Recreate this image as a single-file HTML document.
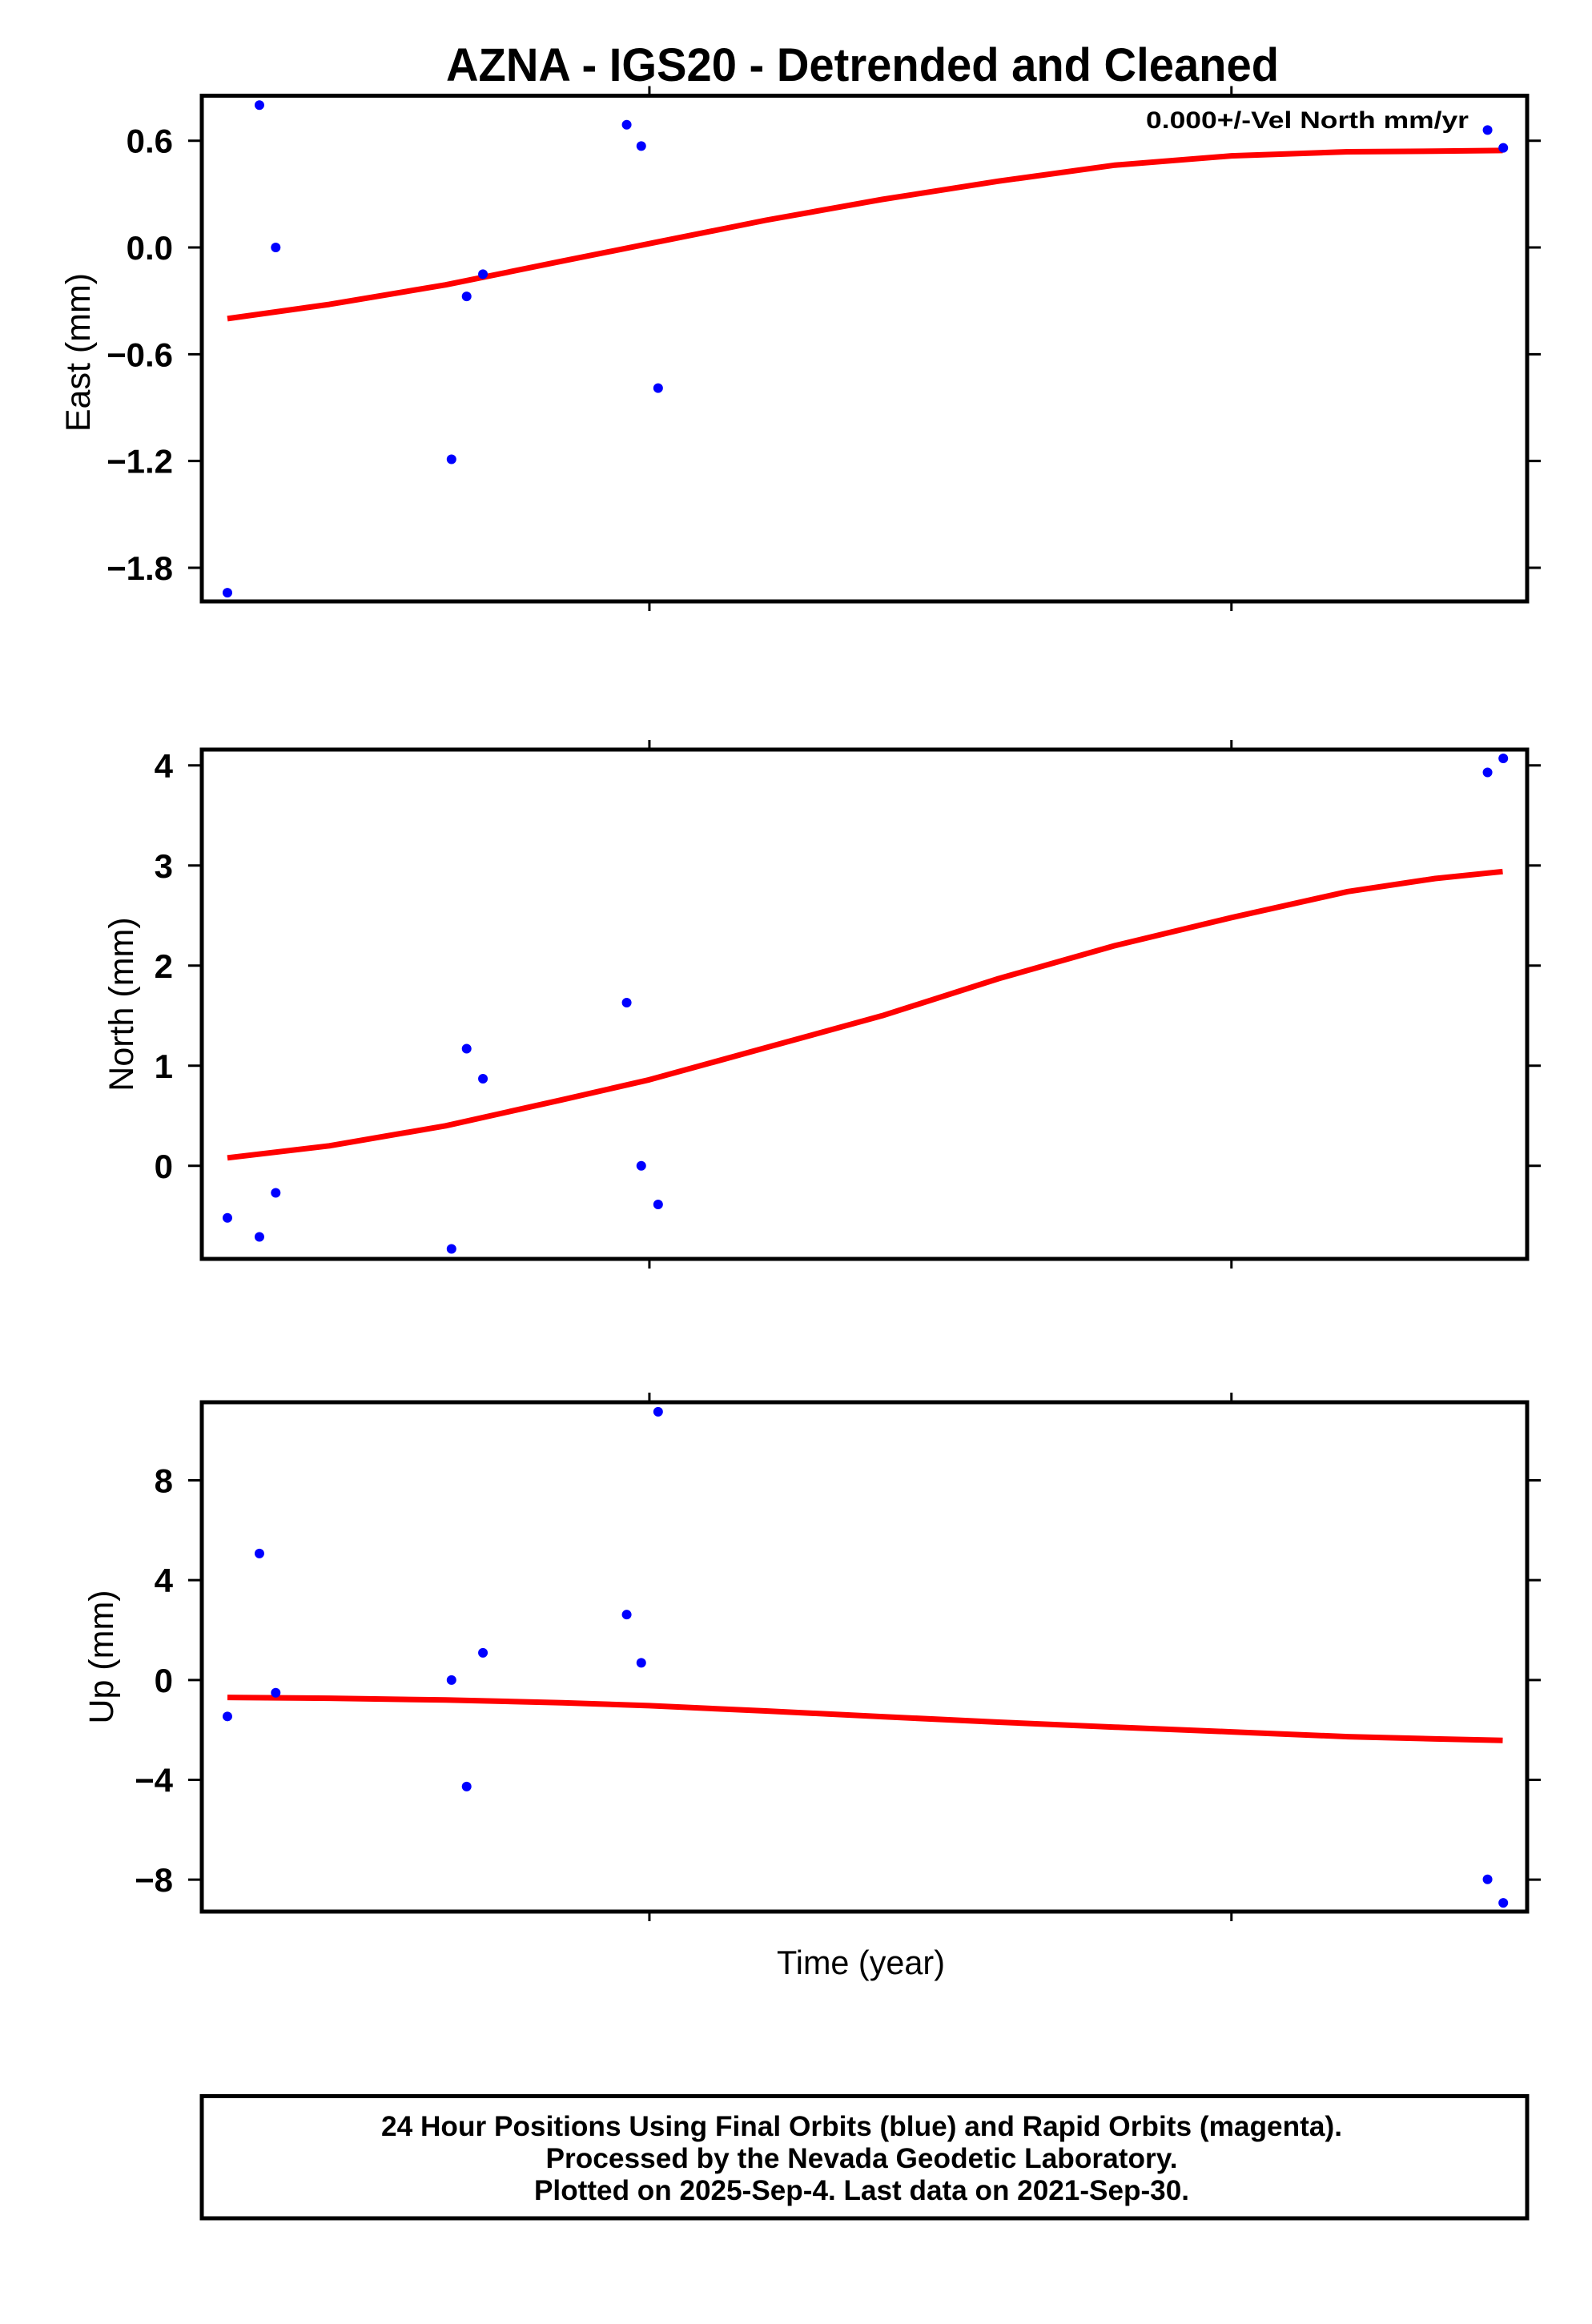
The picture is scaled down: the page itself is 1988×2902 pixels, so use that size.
<!DOCTYPE html>
<html><head><meta charset="utf-8"><title>AZNA - IGS20 - Detrended and Cleaned</title>
<style>html,body{margin:0;padding:0;background:#fff}svg{display:block}text{font-family:"Liberation Sans",Arial,sans-serif}</style>
</head><body>
<svg id="chart" width="1988" height="2902" viewBox="0 0 1988 2902" xmlns="http://www.w3.org/2000/svg">
<rect width="1988" height="2902" fill="#fff"/>
<text x="1077" y="101" text-anchor="middle" font-size="58" font-weight="bold" textLength="1040" lengthAdjust="spacingAndGlyphs">AZNA - IGS20 - Detrended and Cleaned</text>
<g id="plots"></g>
<text x="1075" y="2465" text-anchor="middle" font-size="42" textLength="210" lengthAdjust="spacingAndGlyphs">Time (year)</text>
<g>
<rect x="252" y="2617.5" width="1655" height="152.5" fill="none" stroke="#000" stroke-width="5"/>
<text x="1076" y="2667" text-anchor="middle" font-size="35" font-weight="bold" textLength="1200" lengthAdjust="spacingAndGlyphs">24 Hour Positions Using Final Orbits (blue) and Rapid Orbits (magenta).</text>
<text x="1076" y="2707" text-anchor="middle" font-size="35" font-weight="bold" textLength="789" lengthAdjust="spacingAndGlyphs">Processed by the Nevada Geodetic Laboratory.</text>
<text x="1076" y="2747" text-anchor="middle" font-size="35" font-weight="bold" textLength="818" lengthAdjust="spacingAndGlyphs">Plotted on 2025-Sep-4. Last data on 2021-Sep-30.</text>
</g>
</svg>
<script>
// ---- data ----
const obsYears = [2019.275, 2019.330, 2019.358, 2019.660, 2019.686, 2019.714, 2019.961, 2019.986, 2020.015, 2021.440, 2021.467];
const eastValues = [-1.94, 0.80, 0.0, -1.19, -0.275, -0.15, 0.69, 0.57, -0.79, 0.66, 0.56];
const northValues = [-0.52, -0.71, -0.27, -0.83, 1.17, 0.87, 1.63, 0.0, -0.386, 3.93, 4.07];
const upValues = [-1.46, 5.07, -0.51, 0.0, -4.27, 1.09, 2.62, 0.69, 10.75, -7.99, -8.93];
const fitYears = [2019.275, 2019.45, 2019.65, 2019.85, 2020.0, 2020.2, 2020.4, 2020.6, 2020.8, 2021.0, 2021.2, 2021.35, 2021.466];
const eastFit = [-0.40, -0.32, -0.21, -0.077, 0.022, 0.153, 0.27, 0.373, 0.463, 0.515, 0.538, 0.541, 0.545];
const northFit = [0.08, 0.20, 0.40, 0.66, 0.86, 1.18, 1.50, 1.87, 2.20, 2.48, 2.74, 2.87, 2.94];
const upFit = [-0.70, -0.73, -0.80, -0.91, -1.03, -1.24, -1.47, -1.69, -1.89, -2.08, -2.27, -2.36, -2.42];
const xTickYears = [2020, 2021];
const eastTicks = [0.6, 0.0, -0.6, -1.2, -1.8];
const eastTickLabels = ["0.6", "0.0", "\u22120.6", "\u22121.2", "\u22121.8"];
const northTicks = [4, 3, 2, 1, 0];
const northTickLabels = ["4", "3", "2", "1", "0"];
const upTicks = [8, 4, 0, -4, -8];
const upTickLabels = ["8", "4", "0", "\u22124", "\u22128"];

const NS = "http://www.w3.org/2000/svg";
const X0 = 252, X1 = 1907, YR0 = 2019.231, YR1 = 2021.508;
function xScale(yr){ return X0 + (yr - YR0) / (YR1 - YR0) * (X1 - X0); }
function mk(tag, attrs, parent){ const e = document.createElementNS(NS, tag); for (const k in attrs) e.setAttribute(k, attrs[k]); parent.appendChild(e); return e; }

const panels = [
  {key:"east", label:"East (mm)", top:119.5, bottom:751, vmin:-1.989, vmax:0.853, obs:eastValues, fit:eastFit, ticks:eastTicks, tlabels:eastTickLabels, labX:112, labY:440},
  {key:"north", label:"North (mm)", top:936, bottom:1572, vmin:-0.93, vmax:4.158, obs:northValues, fit:northFit, ticks:northTicks, tlabels:northTickLabels, labX:166, labY:1254},
  {key:"up", label:"Up (mm)", top:1751, bottom:2387, vmin:-9.28, vmax:11.13, obs:upValues, fit:upFit, ticks:upTicks, tlabels:upTickLabels, labX:141, labY:2069}
];
const root = document.getElementById("plots");
panels.forEach(p => {
  const yS = v => p.bottom - (v - p.vmin) / (p.vmax - p.vmin) * (p.bottom - p.top);
  const g = mk("g", {}, root);
  
  
  // y ticks
  p.ticks.forEach((t, i) => {
    const y = yS(t);
    const tl = mk("line", {x1:X0-17, x2:X0, y1:y, y2:y, stroke:"#000", "stroke-width":3}, g);
    
    
    const tr = mk("line", {x1:X1, x2:X1+17, y1:y, y2:y, stroke:"#000", "stroke-width":3}, g);
    
    
    const tx = mk("text", {x:216, y:y+15, "text-anchor":"end", "font-size":42, "font-weight":"bold"}, g);
    
    
    tx.textContent = p.tlabels[i];
  });
  // x ticks
  xTickYears.forEach(yr => {
    const x = xScale(yr);
    const a = mk("line", {x1:x, x2:x, y1:p.top-12, y2:p.top, stroke:"#000", "stroke-width":3}, g);
    
    
    const b = mk("line", {x1:x, x2:x, y1:p.bottom, y2:p.bottom+12, stroke:"#000", "stroke-width":3}, g);
    
    
  });
  // fit line
  const d = fitYears.map((yr, i) => (i ? "L" : "M") + xScale(yr).toFixed(1) + " " + yS(p.fit[i]).toFixed(1)).join(" ");
  const path = mk("path", {d:d, fill:"none", stroke:"#ff0000", "stroke-width":7, "stroke-linejoin":"round"}, g);
  
  
  // points
  obsYears.forEach((yr, i) => {
    const c = mk("circle", {cx:xScale(yr), cy:yS(p.obs[i]), r:6, fill:"#0000ff"}, g);
    
    
  });
  // frame
  const fr = mk("rect", {x:X0, y:p.top, width:X1-X0, height:p.bottom-p.top, fill:"none", stroke:"#000", "stroke-width":5}, g);
  
  
  // axis label
  const lab = mk("text", {x:p.labX, y:p.labY, "text-anchor":"middle", "font-size":43, transform:"rotate(-90 " + p.labX + " " + p.labY + ")"}, g);
  
  
  lab.textContent = p.label;
});
const ann = mk("text", {x:1834, y:160, "text-anchor":"end", "font-size":30, "font-weight":"bold", textLength:403, lengthAdjust:"spacingAndGlyphs"}, root);


ann.textContent = "0.000+/-Vel North mm/yr";
</script>
</body></html>
